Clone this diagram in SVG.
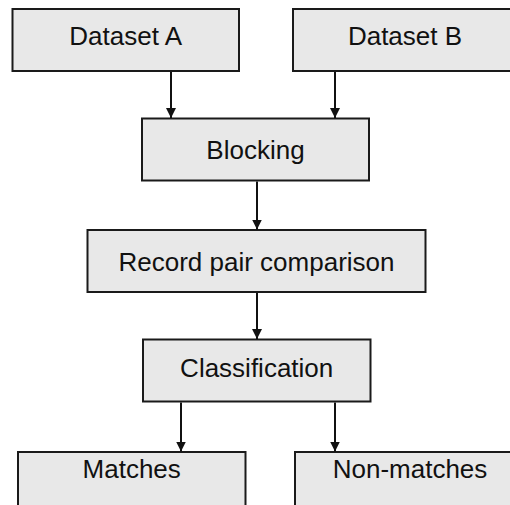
<svg xmlns="http://www.w3.org/2000/svg" width="510" height="505" viewBox="0 0 510 505">
<style>
.box{fill:#e8e8e8;stroke:#1a1a1a;stroke-width:2}
.lbl{font-family:"Liberation Sans",Arial,sans-serif;font-size:26px;fill:#111;text-anchor:middle}
.edge{stroke:#111;stroke-width:2;fill:none;marker-end:url(#ah)}
</style>
<defs>
<marker id="ah" markerUnits="userSpaceOnUse" markerWidth="10" markerHeight="10" viewBox="0 0 10 10" refX="10" refY="5" orient="auto">
<path d="M0,0 L10,5 L0,10 Z" fill="#111"/>
</marker>
</defs>
<rect width="510" height="505" fill="#fff"/>
<g id="dataset-a"><rect class="box" x="12.5" y="9" width="226.5" height="62"/><text class="lbl" x="125.7" y="45">Dataset A</text></g>
<g id="dataset-b"><rect class="box" x="293" y="9" width="228" height="62"/><text class="lbl" x="405" y="45">Dataset B</text></g>
<g id="blocking"><rect class="box" x="142" y="118.5" width="227" height="62"/><text class="lbl" x="255.5" y="158.5">Blocking</text></g>
<g id="record-pair-comparison"><rect class="box" x="87.5" y="230" width="338" height="62"/><text class="lbl" x="256.5" y="270.7">Record pair comparison</text></g>
<g id="classification"><rect class="box" x="143" y="339.5" width="227.5" height="62"/><text class="lbl" x="256.7" y="376.7">Classification</text></g>
<g id="matches"><rect class="box" x="18" y="452" width="227.5" height="62"/><text class="lbl" x="131.7" y="478.3">Matches</text></g>
<g id="non-matches"><rect class="box" x="295" y="452" width="230" height="62"/><text class="lbl" x="410" y="478.3">Non-matches</text></g>
<g id="connectors">
<line class="edge" x1="171" y1="72" x2="171" y2="118"/>
<line class="edge" x1="335" y1="72" x2="335" y2="118"/>
<line class="edge" x1="257" y1="181.5" x2="257" y2="229.5"/>
<line class="edge" x1="257" y1="293" x2="257" y2="339"/>
<line class="edge" x1="181" y1="402.5" x2="181" y2="451.5"/>
<line class="edge" x1="335" y1="402.5" x2="335" y2="451.5"/>
</g>
</svg>
